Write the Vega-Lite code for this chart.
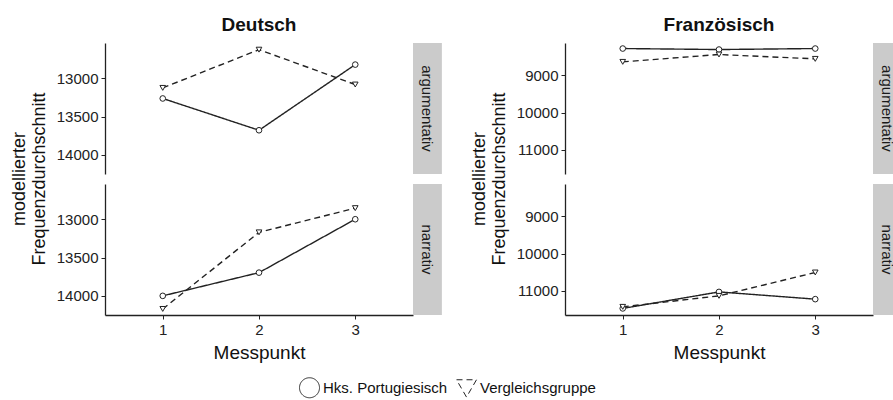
{
  "$schema": "https://vega.github.io/schema/vega-lite/v6.json",
  "padding": {"left": 10, "top": 16, "right": 0, "bottom": 0},
  "config": {
    "font": "Liberation Sans",
    "view": {"stroke": null},
    "axis": {"grid": false, "domainColor": "#222222", "tickColor": "#222222", "labelColor": "#222222", "titleColor": "#111111", "labelFontSize": 15, "titleFontSize": 19, "titleFontWeight": "normal", "tickSize": 4, "domainWidth": 1.3, "tickWidth": 1},
    "legend": {"orient": "bottom", "direction": "horizontal", "offset": 15, "labelFontSize": 15, "labelColor": "#111111", "symbolSize": 400, "columnPadding": 6, "labelOffset": 3, "symbolStrokeColor": "#222222", "symbolFillColor": "white", "symbolStrokeWidth": 1},
    "concat": {"spacing": 28}
  },
  "data": {"values": [
    {"Sprache": "Deutsch", "Textsorte": "argumentativ", "Gruppe": "Hks. Portugiesisch", "Messpunkt": 1, "Wert": 13264},
    {"Sprache": "Deutsch", "Textsorte": "argumentativ", "Gruppe": "Hks. Portugiesisch", "Messpunkt": 2, "Wert": 13679},
    {"Sprache": "Deutsch", "Textsorte": "argumentativ", "Gruppe": "Hks. Portugiesisch", "Messpunkt": 3, "Wert": 12822},
    {"Sprache": "Deutsch", "Textsorte": "argumentativ", "Gruppe": "Vergleichsgruppe", "Messpunkt": 1, "Wert": 13126},
    {"Sprache": "Deutsch", "Textsorte": "argumentativ", "Gruppe": "Vergleichsgruppe", "Messpunkt": 2, "Wert": 12627},
    {"Sprache": "Deutsch", "Textsorte": "argumentativ", "Gruppe": "Vergleichsgruppe", "Messpunkt": 3, "Wert": 13082},
    {"Sprache": "Deutsch", "Textsorte": "narrativ", "Gruppe": "Hks. Portugiesisch", "Messpunkt": 1, "Wert": 14000},
    {"Sprache": "Deutsch", "Textsorte": "narrativ", "Gruppe": "Hks. Portugiesisch", "Messpunkt": 2, "Wert": 13697},
    {"Sprache": "Deutsch", "Textsorte": "narrativ", "Gruppe": "Hks. Portugiesisch", "Messpunkt": 3, "Wert": 13000},
    {"Sprache": "Deutsch", "Textsorte": "narrativ", "Gruppe": "Vergleichsgruppe", "Messpunkt": 1, "Wert": 14171},
    {"Sprache": "Deutsch", "Textsorte": "narrativ", "Gruppe": "Vergleichsgruppe", "Messpunkt": 2, "Wert": 13171},
    {"Sprache": "Deutsch", "Textsorte": "narrativ", "Gruppe": "Vergleichsgruppe", "Messpunkt": 3, "Wert": 12855},
    {"Sprache": "Französisch", "Textsorte": "argumentativ", "Gruppe": "Hks. Portugiesisch", "Messpunkt": 1, "Wert": 8288},
    {"Sprache": "Französisch", "Textsorte": "argumentativ", "Gruppe": "Hks. Portugiesisch", "Messpunkt": 2, "Wert": 8315},
    {"Sprache": "Französisch", "Textsorte": "argumentativ", "Gruppe": "Hks. Portugiesisch", "Messpunkt": 3, "Wert": 8288},
    {"Sprache": "Französisch", "Textsorte": "argumentativ", "Gruppe": "Vergleichsgruppe", "Messpunkt": 1, "Wert": 8645},
    {"Sprache": "Französisch", "Textsorte": "argumentativ", "Gruppe": "Vergleichsgruppe", "Messpunkt": 2, "Wert": 8448},
    {"Sprache": "Französisch", "Textsorte": "argumentativ", "Gruppe": "Vergleichsgruppe", "Messpunkt": 3, "Wert": 8565},
    {"Sprache": "Französisch", "Textsorte": "narrativ", "Gruppe": "Hks. Portugiesisch", "Messpunkt": 1, "Wert": 11469},
    {"Sprache": "Französisch", "Textsorte": "narrativ", "Gruppe": "Hks. Portugiesisch", "Messpunkt": 2, "Wert": 11027},
    {"Sprache": "Französisch", "Textsorte": "narrativ", "Gruppe": "Hks. Portugiesisch", "Messpunkt": 3, "Wert": 11221},
    {"Sprache": "Französisch", "Textsorte": "narrativ", "Gruppe": "Vergleichsgruppe", "Messpunkt": 1, "Wert": 11427},
    {"Sprache": "Französisch", "Textsorte": "narrativ", "Gruppe": "Vergleichsgruppe", "Messpunkt": 2, "Wert": 11133},
    {"Sprache": "Französisch", "Textsorte": "narrativ", "Gruppe": "Vergleichsgruppe", "Messpunkt": 3, "Wert": 10507}
  ]},
  "hconcat": [
    {
      "transform": [{"filter": "datum.Sprache == 'Deutsch'"}],
      "facet": {
        "column": {"field": "Sprache", "type": "nominal", "header": {"title": null, "labelFontSize": 19, "labelFontWeight": "bold", "labelColor": "#111111", "labelPadding": 8}},
        "row": {"field": "Textsorte", "type": "nominal", "header": {"labels": false, "labelPadding": 0, "title": ["modellierter", "Frequenzdurchschnitt"], "titleFontSize": 18, "titleFontWeight": "normal", "titleColor": "#111111", "titlePadding": -3}}
      },
      "spacing": {"row": 10, "column": 0},
      "spec": {
        "width": 308,
        "height": 131,
        "layer": [
          {
            "transform": [{"filter": "datum.Messpunkt == 1 && datum.Gruppe == 'Hks. Portugiesisch'"}],
            "mark": {"type": "rect", "color": "#cbcbcb", "clip": false},
            "encoding": {
              "x": {"datum": 3.6, "type": "quantitative", "scale": {"domain": [0.4, 3.6], "nice": false, "zero": false}},
              "x2": {"datum": 3.9},
              "y": {"datum": 12540, "type": "quantitative", "scale": {"domain": [12540, 14250], "reverse": true, "nice": false, "zero": false}},
              "y2": {"datum": 14250}
            }
          },
          {
            "transform": [{"filter": "datum.Messpunkt == 1 && datum.Gruppe == 'Hks. Portugiesisch'"}],
            "mark": {"type": "text", "angle": 90, "fontSize": 15, "color": "#1a1a1a", "align": "center", "baseline": "middle", "clip": false},
            "encoding": {
              "x": {"datum": 3.75, "type": "quantitative"},
              "y": {"datum": 13395, "type": "quantitative"},
              "text": {"field": "Textsorte"}
            }
          },
          {
            "mark": {"type": "line", "color": "#222222", "strokeWidth": 1.4},
            "encoding": {
              "x": {"field": "Messpunkt", "type": "quantitative", "axis": {"values": [1, 2, 3], "format": "d", "title": "Messpunkt", "titlePadding": 6, "labelPadding": 3}},
              "y": {"field": "Wert", "type": "quantitative", "axis": {"values": [13000, 13500, 14000], "format": "d", "title": null, "labelPadding": 3}},
              "strokeDash": {"field": "Gruppe", "type": "nominal", "scale": {"domain": ["Hks. Portugiesisch", "Vergleichsgruppe"], "range": [[1, 0], [6, 4]]},
                "legend": {"title": " ", "titleOrient": "left", "titlePadding": 194, "titleLimit": 400, "orient": "bottom", "direction": "horizontal", "encode": {"symbols": {"update": {
                  "shape": {"signal": "datum.value == 'Hks. Portugiesisch' ? 'M-1,0H-0.25M0.25,0H1M0.25,0A0.25,0.25 0 1 1 -0.25,0A0.25,0.25 0 1 1 0.25,0' : 'M-1,0H-0.45M0.45,0H1M-0.3,-0.2H0.3L0,0.3Z'"},
                  "strokeDash": {"value": [1, 0]}
                }}}}}
            }
          },
          {
            "mark": {"type": "point", "filled": true, "fill": "white", "stroke": "#222222", "strokeWidth": 1, "size": 32, "opacity": 1},
            "encoding": {
              "x": {"field": "Messpunkt", "type": "quantitative"},
              "y": {"field": "Wert", "type": "quantitative"},
              "shape": {"field": "Gruppe", "type": "nominal", "scale": {"domain": ["Hks. Portugiesisch", "Vergleichsgruppe"], "range": ["circle", "triangle-down"]},
                "legend": {"title": " ", "titleOrient": "left", "titlePadding": 194, "titleLimit": 400, "orient": "bottom", "direction": "horizontal", "encode": {"symbols": {"update": {
                  "shape": {"signal": "datum.value == 'Hks. Portugiesisch' ? 'M-1,0H-0.25M0.25,0H1M0.25,0A0.25,0.25 0 1 1 -0.25,0A0.25,0.25 0 1 1 0.25,0' : 'M-1,0H-0.45M0.45,0H1M-0.3,-0.2H0.3L0,0.3Z'"},
                  "strokeDash": {"value": [1, 0]}
                }}}}}
            }
          }
        ]
      }
    },
    {
      "transform": [{"filter": "datum.Sprache == 'Französisch'"}],
      "facet": {
        "column": {"field": "Sprache", "type": "nominal", "header": {"title": null, "labelFontSize": 19, "labelFontWeight": "bold", "labelColor": "#111111", "labelPadding": 8}},
        "row": {"field": "Textsorte", "type": "nominal", "header": {"labels": false, "labelPadding": 0, "title": ["modellierter", "Frequenzdurchschnitt"], "titleFontSize": 18, "titleFontWeight": "normal", "titleColor": "#111111", "titlePadding": -3}}
      },
      "spacing": {"row": 10, "column": 0},
      "spec": {
        "width": 308,
        "height": 131,
        "layer": [
          {
            "transform": [{"filter": "datum.Messpunkt == 1 && datum.Gruppe == 'Hks. Portugiesisch'"}],
            "mark": {"type": "rect", "color": "#cbcbcb", "clip": false},
            "encoding": {
              "x": {"datum": 3.6, "type": "quantitative", "scale": {"domain": [0.4, 3.6], "nice": false, "zero": false}},
              "x2": {"datum": 3.9},
              "y": {"datum": 8140, "type": "quantitative", "scale": {"domain": [8140, 11645], "reverse": true, "nice": false, "zero": false}},
              "y2": {"datum": 11645}
            }
          },
          {
            "transform": [{"filter": "datum.Messpunkt == 1 && datum.Gruppe == 'Hks. Portugiesisch'"}],
            "mark": {"type": "text", "angle": 90, "fontSize": 15, "color": "#1a1a1a", "align": "center", "baseline": "middle", "clip": false},
            "encoding": {
              "x": {"datum": 3.75, "type": "quantitative"},
              "y": {"datum": 9892, "type": "quantitative"},
              "text": {"field": "Textsorte"}
            }
          },
          {
            "mark": {"type": "line", "color": "#222222", "strokeWidth": 1.4},
            "encoding": {
              "x": {"field": "Messpunkt", "type": "quantitative", "axis": {"values": [1, 2, 3], "format": "d", "title": "Messpunkt", "titlePadding": 6, "labelPadding": 3}},
              "y": {"field": "Wert", "type": "quantitative", "axis": {"values": [9000, 10000, 11000], "format": "d", "title": null, "labelPadding": 3}},
              "strokeDash": {"field": "Gruppe", "type": "nominal", "scale": {"domain": ["Hks. Portugiesisch", "Vergleichsgruppe"], "range": [[1, 0], [6, 4]]},
                "legend": {"title": " ", "titleOrient": "left", "titlePadding": 194, "titleLimit": 400, "orient": "bottom", "direction": "horizontal", "encode": {"symbols": {"update": {
                  "shape": {"signal": "datum.value == 'Hks. Portugiesisch' ? 'M-1,0H-0.25M0.25,0H1M0.25,0A0.25,0.25 0 1 1 -0.25,0A0.25,0.25 0 1 1 0.25,0' : 'M-1,0H-0.45M0.45,0H1M-0.3,-0.2H0.3L0,0.3Z'"},
                  "strokeDash": {"value": [1, 0]}
                }}}}}
            }
          },
          {
            "mark": {"type": "point", "filled": true, "fill": "white", "stroke": "#222222", "strokeWidth": 1, "size": 32, "opacity": 1},
            "encoding": {
              "x": {"field": "Messpunkt", "type": "quantitative"},
              "y": {"field": "Wert", "type": "quantitative"},
              "shape": {"field": "Gruppe", "type": "nominal", "scale": {"domain": ["Hks. Portugiesisch", "Vergleichsgruppe"], "range": ["circle", "triangle-down"]},
                "legend": {"title": " ", "titleOrient": "left", "titlePadding": 194, "titleLimit": 400, "orient": "bottom", "direction": "horizontal", "encode": {"symbols": {"update": {
                  "shape": {"signal": "datum.value == 'Hks. Portugiesisch' ? 'M-1,0H-0.25M0.25,0H1M0.25,0A0.25,0.25 0 1 1 -0.25,0A0.25,0.25 0 1 1 0.25,0' : 'M-1,0H-0.45M0.45,0H1M-0.3,-0.2H0.3L0,0.3Z'"},
                  "strokeDash": {"value": [1, 0]}
                }}}}}
            }
          }
        ]
      }
    }
  ],
  "resolve": {"scale": {"x": "independent", "y": "independent", "shape": "shared", "strokeDash": "shared"}, "legend": {"shape": "shared", "strokeDash": "shared"}}
}
